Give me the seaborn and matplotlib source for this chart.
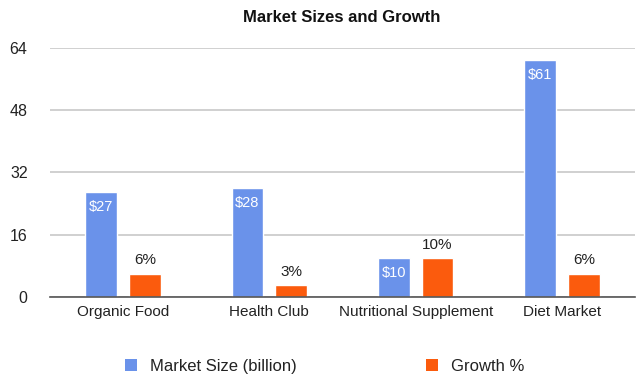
import matplotlib
matplotlib.use("Agg")
import matplotlib.pyplot as plt
import seaborn as sns
import pandas as pd
from matplotlib.patches import Patch

categories = ["Organic Food", "Health Club", "Nutritional Supplement", "Diet Market"]
market_size = [27, 28, 10, 61]
growth = [6, 3, 10, 6]
series_names = ["Market Size (billion)", "Growth %"]
y_ticks = [0, 16, 32, 48, 64]

BLUE = "#6a92ea"
ORANGE = "#fb5b0d"

sns.set_theme(style="white")
plt.rcParams["font.family"] = ["Liberation Sans", "DejaVu Sans"]

df = pd.DataFrame({
    "category": categories * 2,
    "series": [series_names[0]] * len(categories) + [series_names[1]] * len(categories),
    "value": market_size + growth,
})

fig = plt.figure(figsize=(6.39, 3.74), dpi=100)
ax = fig.add_axes([0.078, 0.206, 0.916, 0.666])

sns.barplot(data=df, x="category", y="value", hue="series", order=categories,
            hue_order=series_names, palette=[BLUE, ORANGE], width=0.6, gap=0.28,
            saturation=1, ax=ax, legend=False)

ax.set_xlim(-0.5, len(categories) - 0.5)
ax.set_ylim(0, 64)
ax.set_yticks(y_ticks)
ax.set_xlabel("")
ax.set_ylabel("")
ax.grid(axis="y", color="#c8c8c8", linewidth=1.2)
ax.set_axisbelow(True)
for s in ["top", "right", "left"]:
    ax.spines[s].set_visible(False)
ax.spines["bottom"].set_color("#555555")
ax.spines["bottom"].set_linewidth(1.2)
ax.tick_params(axis="y", length=0, pad=16, labelsize=11.5, labelcolor="#222222")
ax.tick_params(axis="x", length=0, pad=6, labelsize=11, labelcolor="#222222")

# value labels
blue_bars = ax.containers[0]
orange_bars = ax.containers[1]
for bar, v in zip(blue_bars, market_size):
    ax.annotate(f"${v}", (bar.get_x() + bar.get_width() / 2, bar.get_height()),
                xytext=(0, -6), textcoords="offset points", ha="center", va="top",
                color="white", fontsize=10.5)
for bar, v in zip(orange_bars, growth):
    ax.annotate(f"{v}%", (bar.get_x() + bar.get_width() / 2, bar.get_height()),
                xytext=(0, 4.5), textcoords="offset points", ha="center", va="bottom",
                color="#222222", fontsize=11)

fig.text(0.535, 0.952, "Market Sizes and Growth", ha="center", va="center",
         fontsize=12, fontweight="bold", color="#111111")

for color, name, xpos in [(BLUE, series_names[0], 0.172), (ORANGE, series_names[1], 0.643)]:
    fig.legend(handles=[Patch(facecolor=color, edgecolor="none", label=name)],
               loc="center left", bbox_to_anchor=(xpos, 0.021), frameon=False,
               handlelength=0.7, handleheight=0.7, handletextpad=0.8,
               fontsize=12, labelcolor="#222222")

fig.savefig("out.png", dpi=100)
